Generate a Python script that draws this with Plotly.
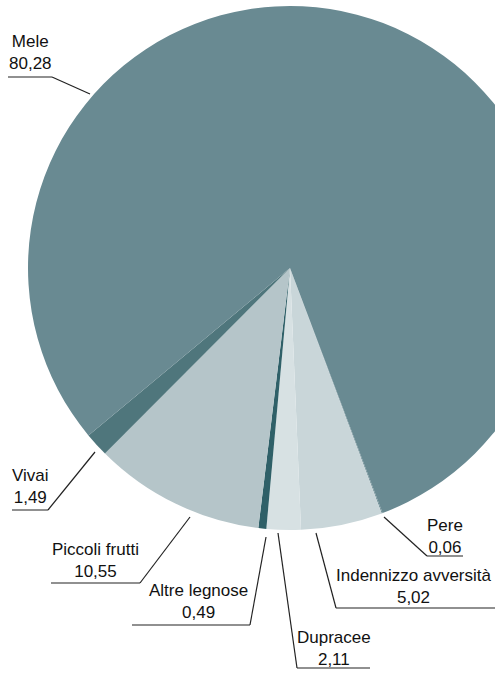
import plotly.graph_objects as go

# ---- data ----
labels = ["Pere", "Indennizzo avversità", "Dupracee", "Altre legnose",
          "Piccoli frutti", "Vivai", "Mele"]
values = [0.06, 5.02, 2.11, 0.49, 10.55, 1.49, 80.28]
colors = ["#6d8d95", "#c9d6d9", "#d7e1e3", "#2f6068", "#b5c5c9", "#4f767c", "#698a92"]

# ---- label layout (pixel positions in the 560x673 canvas) ----
W, H = 560, 673
# label: (text centre x, 2nd text line centre y, underline y, underline x0, underline x1,
#         leader end x, leader end y)
label_pos = {
    "Mele":                 (30, 63, 77, 8, 52, 90, 94),
    "Vivai":                (30, 497, 510, 12, 48, 95, 452),
    "Piccoli frutti":       (95, 571, 583, 51, 140, 190, 517),
    "Altre legnose":        (198, 612, 625, 132, 250, 266, 537),
    "Dupracee":             (334, 659, 668, 297, 370, 278, 533),
    "Pere":                 (445, 547, 556, 427, 463, 384, 517),
    "Indennizzo avversità": (414, 597, 608, 336, 495, 316, 533),
}
# which end of the underline the leader attaches to
attach_left = {"Dupracee", "Pere", "Indennizzo avversità"}

def px(x):
    return x / W

def py(y):
    return 1 - y / H

fig = go.Figure()
fig.add_trace(go.Pie(
    labels=labels,
    values=values,
    sort=False,
    direction="clockwise",
    rotation=159.3,
    marker=dict(colors=colors, line=dict(width=0)),
    textinfo="none",
    hoverinfo="label+value",
    showlegend=False,
    domain=dict(x=[px(28), px(552)], y=[py(530), py(6)]),
))

FONT = dict(family="Liberation Sans, Arial, Helvetica, sans-serif", size=17, color="#111")

shapes = []
annotations = []
for lab, val in zip(labels, values):
    cx, ty, uy, ux0, ux1, lx, ly = label_pos[lab]
    txt = f"{lab}<br>{val:.2f}".replace(".", ",")
    annotations.append(dict(
        x=px(cx), y=py(ty + 12), xref="paper", yref="paper",
        text=txt, showarrow=False, xanchor="center", yanchor="bottom",
        align="center", font=FONT,
    ))
    shapes.append(dict(type="line", xref="paper", yref="paper",
                       x0=px(ux0), x1=px(ux1), y0=py(uy), y1=py(uy),
                       line=dict(color="#222", width=1.2)))
    ax = ux0 if lab in attach_left else ux1
    shapes.append(dict(type="line", xref="paper", yref="paper",
                       x0=px(ax), y0=py(uy), x1=px(lx), y1=py(ly),
                       line=dict(color="#222", width=1.2)))

fig.update_layout(
    width=W, height=H,
    margin=dict(l=0, r=0, t=0, b=0),
    paper_bgcolor="white", plot_bgcolor="white",
    shapes=shapes, annotations=annotations,
)

fig.write_html(
    "out.html",
    config={"displayModeBar": False},
    post_script="document.body.style.margin='0';document.body.style.overflow='hidden';",
)
